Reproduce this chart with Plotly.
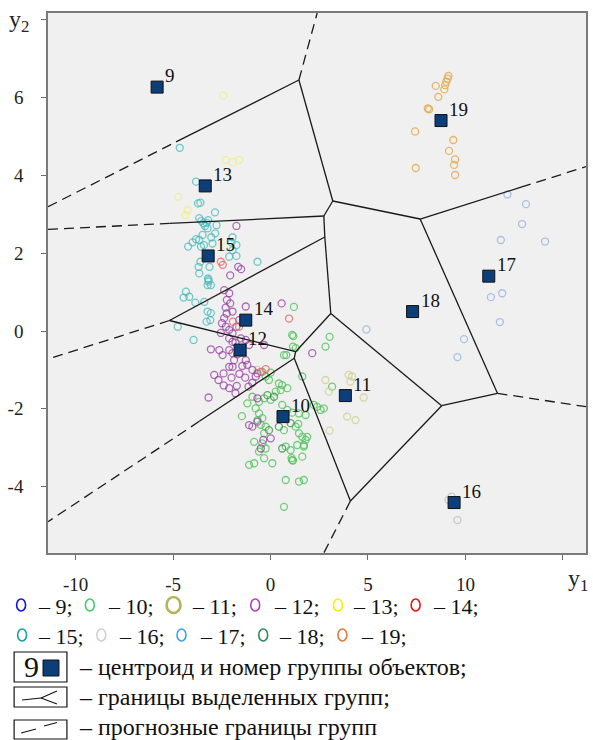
import plotly.graph_objects as go

# ---------------- data ----------------
# group centroids in (y1, y2) space
centroid_ids = [9, 10, 11, 12, 13, 14, 15, 16, 17, 18, 19]
centroid_x = [-5.82, 0.64, 3.84, -1.56, -3.35, -1.27, -3.20, 9.42, 11.20, 7.29, 8.75]
centroid_y = [6.27, -2.20, -1.66, -0.49, 3.73, 0.28, 1.93, -4.41, 1.41, 0.50, 5.41]

# objects of each group
g10_x = [1.17, 2.82, 3.03, 0.81, 1.63, 3.16, -0.42, 0.01, -0.25, -0.08, 0.43, 0.60, 0.86,
         0.52, 0.27, 0.01, -0.33, -0.59, 0.60, 0.86, 1.11, 1.46, 1.80, 2.22, 2.39, 2.57,
         2.74, -0.76, -0.59, -0.42, -0.67, -0.50, -0.25, -0.33, -1.47, 0.69, 1.29, 1.46,
         1.80, 1.88, -0.84, -0.42, -0.25, -0.59, 0.78, 1.03, 1.37, 1.71, 1.63, -1.10, -0.84,
         -0.33, 0.09, 1.08, 1.15, 0.78, 1.46, 1.71, 0.69, 1.20, 1.11, 1.15, 0.69, 1.29,
         -0.93, -1.19, 1.42, 1.63, 1.71, 1.11]
g10_y = [-0.13, -0.40, -0.15, -0.62, -1.17, -1.43, -1.05, -1.07, -1.17, -1.26, -1.35, -1.39,
         -1.47, -1.52, -1.56, -1.77, -1.73, -1.82, -1.90, -2.03, -2.10, -2.12, -2.16, -1.90,
         -1.95, -2.03, -1.99, -1.99, -2.12, -2.24, -2.29, -2.41, -2.46, -2.63, -2.19, -2.55,
         -2.46, -2.63, -2.80, -2.72, -2.85, -2.89, -3.02, -3.10, -2.97, -3.06, -2.93, -2.97,
         -3.23, -3.44, -3.40, -3.27, -3.40, -3.27, -3.33, -3.83, -3.87, -3.83, -4.52, 0.62,
         -0.10, -0.40, -0.62, -0.44, -1.69, -1.86, -2.39, -2.72, -2.93, -3.32]

g11_x = [4.01, 4.18, 4.10, 2.99, 4.78, 3.93, 4.36, 3.03, 2.82, -0.67]
g11_y = [-1.13, -1.17, -1.30, -1.56, -1.71, -2.20, -2.29, -2.56, -1.26, -1.00]

g12_x = [-2.12, -2.24, -2.07, -1.95, -2.38, -2.49, -2.29, -2.12, -1.95, -2.12, -1.95, -3.06,
         -2.63, -2.46, -2.12, -1.95, -1.87, -2.12, -1.95, -2.89, -2.67, -2.41, -2.12, -1.73,
         -3.18, -1.13, -0.93, -0.76, -1.27, -1.19, -0.93, -0.67, -0.33, -1.27, -1.10, -1.52,
         -1.75, -1.61, 0.57, -1.10, -0.93, -0.67, -0.50, -0.37, 0.01, 2.14, -0.67, -1.75,
         -1.66, -1.51, -2.07, -2.38, -1.27, -2.30, -1.80, -1.70, -1.45, -1.60, -1.30, -2.00,
         -1.80, -2.40, -2.55, -1.45, -2.25]
g12_y = [0.97, 0.80, 0.71, 0.50, 0.33, 0.20, 0.11, 0.03, -0.06, -0.19, -0.28, -0.47, -0.49,
         -0.62, -0.49, -0.57, -0.75, -0.92, -0.92, -1.13, -1.26, -1.09, -1.47, -1.41, -1.71,
         -1.43, -1.33, -1.17, -0.75, -0.87, -1.00, -1.09, -0.36, -0.23, -0.36, -0.19, 0.11,
         0.28, 0.71, -2.42, -2.46, -2.33, -3.02, -2.80, -2.76, -0.57, -1.73, 2.70, 1.65,
         1.59, 1.43, 1.05, 0.63, 0.60, -0.30, -0.60, -0.90, -1.10, -1.20, -1.20, -1.60,
         -1.40, -0.05, -0.55, 0.45]

g13_x = [-2.43, -2.29, -1.95, -1.61, -4.73, -4.25, -4.37]
g13_y = [6.05, 4.40, 4.34, 4.40, 3.45, 3.11, 2.98]

g14_x = [-2.55, -2.45, 0.95, -1.61, -1.93, -0.50, -0.25]
g14_y = [1.78, 1.70, 0.32, 0.11, 0.24, -1.05, -0.98]

g15_x = [-4.66, -3.82, -3.72, -3.60, -2.85, -3.66, -3.55, -3.45, -3.28, -3.20, -3.36, -3.23,
         -2.77, -2.84, -3.49, -3.04, -3.82, -3.66, -4.00, -4.23, -3.57, -3.42, -2.98, -1.95,
         -2.00, -1.75, -1.95, -2.12, -1.75, -3.60, -3.69, -3.13, -0.67, -3.66, -3.21, -3.18,
         -3.23, -3.06, -4.34, -4.46, -4.17, -3.86, -3.40, -3.23, -3.06, -3.28, -3.09, -4.76,
         -3.95, -3.18]
g15_y = [4.71, 3.84, 3.28, 3.30, 3.05, 2.90, 2.83, 2.77, 2.78, 2.85, 2.70, 2.64, 2.72, 2.51,
         2.47, 2.41, 2.36, 2.34, 2.28, 2.17, 2.17, 2.21, 2.25, 2.41, 2.28, 2.21, 2.08, 1.91,
         1.93, 1.78, 1.65, 1.65, 1.78, 1.48, 1.35, 1.31, 1.18, 1.18, 1.01, 0.86, 0.88, 0.73,
         0.75, 0.50, 0.46, 0.24, 0.28, 0.11, -0.23, 1.27]

g16_x = [9.29, 9.13, 9.59]
g16_y = [-4.26, -4.34, -4.86]

g17_x = [12.16, 13.11, 12.91, 11.82, 14.09, 11.89, 11.31, 11.77, 9.93, 9.59, 4.92]
g17_y = [3.51, 3.26, 2.75, 2.34, 2.30, 0.97, 0.87, 0.23, -0.21, -0.67, 0.04]

g18_x = [-0.16, 0.18, 1.03, 0.43, -0.08, 0.60]
g18_y = [-1.65, -1.69, -2.37, -2.46, -2.55, -3.02]

g19_x = [9.13, 9.09, 9.02, 8.96, 8.48, 8.92, 8.61, 8.07, 8.14, 7.42, 9.38, 9.16, 9.47, 9.42,
         7.45, 9.47]
g19_y = [6.56, 6.49, 6.41, 6.32, 6.30, 6.21, 6.02, 5.72, 5.70, 5.13, 4.91, 4.63, 4.41, 4.27,
         4.19, 4.01]

# group boundaries: segments inside the data region (solid) and extrapolated (dashed)
solid_segments = [
    ((-4.85, 4.86), (1.457, 6.452)),
    ((1.457, 6.452), (3.195, 3.342)),
    ((3.195, 3.342), (2.735, 2.956)),
    ((-5.19, 2.765), (2.735, 2.956)),
    ((2.735, 2.956), (2.786, 2.416)),
    ((2.786, 2.416), (-5.189, 0.270)),
    ((-5.189, 0.270), (1.288, -0.532)),
    ((2.786, 2.416), (3.093, 0.450)),
    ((3.093, 0.450), (1.288, -0.532)),
    ((1.288, -0.532), (1.217, -0.702)),
    ((1.217, -0.702), (-3.655, -2.322)),
    ((1.217, -0.702), (4.100, -4.370)),
    ((3.093, 0.450), (8.783, -1.920)),
    ((8.783, -1.920), (4.100, -4.370)),
    ((8.783, -1.920), (11.646, -1.602)),
    ((11.646, -1.602), (7.679, 2.879)),
    ((7.679, 2.879), (3.195, 3.342)),
    ((7.679, 2.879), (12.858, 3.697)),
]
dashed_segments = [
    ((-11.42, 3.195), (-4.85, 4.86)),
    ((1.457, 6.452), (2.393, 8.175)),
    ((-11.42, 2.614), (-5.19, 2.765)),
    ((-5.189, 0.270), (-11.42, -0.720)),
    ((-3.655, -2.322), (-11.42, -4.902)),
    ((4.100, -4.370), (2.735, -5.707)),
    ((11.646, -1.602), (16.19, -1.946)),
    ((12.858, 3.697), (16.19, 4.224)),
]

# the last tick on each axis is left for the axis name
x_ticks = [-10, -5, 0, 5, 10, 15]
x_ticktext = ["-10", "-5", "0", "5", "10", ""]
y_ticks = [-4, -2, 0, 2, 4, 6, 8]
y_ticktext = ["-4", "-2", "0", "2", "4", "6", ""]

legend_rows = [
    [(9, "– 9;"), (10, "– 10;"), (11, "– 11;"), (12, "– 12;"), (13, "– 13;"), (14, "– 14;")],
    [(15, "– 15;"), (16, "– 16;"), (17, "– 17;"), (18, "– 18;"), (19, "– 19;")],
]

# ---------------- styles ----------------
SERIF = "Liberation Serif, Times New Roman, serif"
point_colors = {
    10: "rgba(80,195,90,0.8)", 11: "rgba(205,205,140,0.75)", 12: "rgba(150,60,160,0.75)",
    13: "rgba(240,240,120,0.7)", 14: "rgba(225,95,95,0.75)", 15: "rgba(70,185,185,0.75)",
    16: "rgba(190,190,190,0.8)", 17: "rgba(150,180,225,0.8)", 18: "rgba(55,150,70,0.8)",
    19: "rgba(230,165,70,0.8)",
}
legend_colors = {
    9: "#1010ee", 10: "#3ccf6a", 11: "#b5b45c", 12: "#b040bf", 13: "#f5f000", 14: "#ee1010",
    15: "#1aa0a0", 16: "#d0d0d0", 17: "#3fa0f0", 18: "#2e8b57", 19: "#e07a3a",
}
groups = {
    10: (g10_x, g10_y), 11: (g11_x, g11_y), 12: (g12_x, g12_y), 13: (g13_x, g13_y),
    14: (g14_x, g14_y), 15: (g15_x, g15_y), 16: (g16_x, g16_y), 17: (g17_x, g17_y),
    18: (g18_x, g18_y), 19: (g19_x, g19_y),
}

fig = go.Figure()


def seg_xy(segments):
    xs, ys = [], []
    for (x0, y0), (x1, y1) in segments:
        xs += [x0, x1, None]
        ys += [y0, y1, None]
    return xs, ys


# object markers
for gid, (gx, gy) in groups.items():
    fig.add_trace(go.Scatter(
        x=gx, y=gy, mode="markers", hoverinfo="skip",
        marker=dict(symbol="circle-open", size=7, color=point_colors[gid],
                    line=dict(width=1.3, color=point_colors[gid])),
    ))

# boundaries
sx, sy = seg_xy(solid_segments)
fig.add_trace(go.Scatter(x=sx, y=sy, mode="lines", hoverinfo="skip",
                         line=dict(color="#1a1a1a", width=1.3)))
dx, dy = seg_xy(dashed_segments)
fig.add_trace(go.Scatter(x=dx, y=dy, mode="lines", hoverinfo="skip",
                         line=dict(color="#1a1a1a", width=1.3, dash="10px,6px")))

# centroids
fig.add_trace(go.Scatter(
    x=centroid_x, y=centroid_y, mode="markers", hoverinfo="skip",
    marker=dict(symbol="square", size=12, color="#0c3e79",
                line=dict(width=1, color="#111111")),
))

annotations = []
for cid, cx, cy in zip(centroid_ids, centroid_x, centroid_y):
    annotations.append(dict(
        x=cx, y=cy, xref="x", yref="y", text=str(cid), showarrow=False,
        xanchor="left", yanchor="bottom", xshift=6, yshift=-1,
        font=dict(family=SERIF, size=19, color="#111"),
    ))


def px_x(px):
    return (px - 48) / 540


def px_y(py):
    return (553 - py) / 540


# axis names
annotations.append(dict(xref="paper", yref="paper", x=px_x(19), y=px_y(21),
                        text="y<sub>2</sub>", showarrow=False, xanchor="center",
                        yanchor="middle", font=dict(family=SERIF, size=24, color="#222")))
annotations.append(dict(xref="paper", yref="paper", x=px_x(580), y=px_y(580),
                        text="y<sub>1</sub>", showarrow=False, xanchor="center",
                        yanchor="middle", font=dict(family=SERIF, size=24, color="#222")))

shapes = []
# legend: marker colours of the groups
row_pos = [
    (605, [21, 90, 174, 256, 339, 417], [36, 106, 191, 273, 352, 432]),
    (635, [22, 101.5, 182, 264, 343.5], [36, 117, 199, 278, 360]),
]
for (ry, cxs, txs), row in zip(row_pos, legend_rows):
    for (gid, label), cxp, txp in zip(row, cxs, txs):
        if gid == 11:
            w, h, lw = 7, 8, 2.6
        else:
            w, h, lw = 4.5, 6, 1.6
        shapes.append(dict(type="circle", xref="paper", yref="paper",
                           x0=px_x(cxp - w), x1=px_x(cxp + w),
                           y0=px_y(ry + h), y1=px_y(ry - h),
                           line=dict(color=legend_colors[gid], width=lw)))
        annotations.append(dict(xref="paper", yref="paper", x=px_x(txp), y=px_y(ry + 1),
                                text=label, showarrow=False, xanchor="left", yanchor="middle",
                                font=dict(family=SERIF, size=22, color="#111")))

# legend: centroid box
shapes.append(dict(type="rect", xref="paper", yref="paper", x0=px_x(14), x1=px_x(67),
                   y0=px_y(682), y1=px_y(652), line=dict(color="#111", width=1.2)))
annotations.append(dict(xref="paper", yref="paper", x=px_x(31), y=px_y(666), text="9",
                        showarrow=False, xanchor="center", yanchor="middle",
                        font=dict(family=SERIF, size=30, color="#111")))
shapes.append(dict(type="rect", xref="paper", yref="paper", x0=px_x(43), x1=px_x(59),
                   y0=px_y(676), y1=px_y(660), fillcolor="#0c3e79",
                   line=dict(color="#111", width=1)))
annotations.append(dict(xref="paper", yref="paper", x=px_x(77), y=px_y(667),
                        text="– центроид и номер группы объектов;", showarrow=False,
                        xanchor="left", yanchor="middle",
                        font=dict(family=SERIF, size=24, color="#111")))

# legend: boundary box
shapes.append(dict(type="rect", xref="paper", yref="paper", x0=px_x(14), x1=px_x(67),
                   y0=px_y(707), y1=px_y(687), line=dict(color="#111", width=1.2)))
for (a, b) in [((22, 700), (41, 698)), ((41, 698), (57, 691)), ((41, 698), (57, 704))]:
    shapes.append(dict(type="line", xref="paper", yref="paper",
                       x0=px_x(a[0]), y0=px_y(a[1]), x1=px_x(b[0]), y1=px_y(b[1]),
                       line=dict(color="#111", width=1.1)))
annotations.append(dict(xref="paper", yref="paper", x=px_x(77), y=px_y(697),
                        text="– границы выделенных групп;", showarrow=False,
                        xanchor="left", yanchor="middle",
                        font=dict(family=SERIF, size=24, color="#111")))

# legend: extrapolated boundary box
shapes.append(dict(type="rect", xref="paper", yref="paper", x0=px_x(14), x1=px_x(67),
                   y0=px_y(739), y1=px_y(720), line=dict(color="#111", width=1.2)))
for (a, b) in [((21, 733), (36, 729)), ((44, 726), (57, 722.5))]:
    shapes.append(dict(type="line", xref="paper", yref="paper",
                       x0=px_x(a[0]), y0=px_y(a[1]), x1=px_x(b[0]), y1=px_y(b[1]),
                       line=dict(color="#111", width=1.1)))
annotations.append(dict(xref="paper", yref="paper", x=px_x(77), y=px_y(727),
                        text="– прогнозные границы групп", showarrow=False,
                        xanchor="left", yanchor="middle",
                        font=dict(family=SERIF, size=24, color="#111")))

axis_common = dict(
    showgrid=False, zeroline=False, showline=True, linecolor="#7a7a7a", linewidth=1.5,
    mirror=True, ticks="outside", ticklen=5, tickwidth=1.3, tickcolor="#6a6a6a",
    tickfont=dict(family=SERIF, size=19, color="#222"),
)

fig.update_layout(
    width=593, height=740, autosize=False,
    margin=dict(l=48, r=5, t=13, b=187, pad=0),
    paper_bgcolor="white", plot_bgcolor="#f0f0f0",
    showlegend=False,
    xaxis=dict(range=[-11.42, 16.19], tickvals=x_ticks, ticktext=x_ticktext,
               ticklabelstandoff=8, **axis_common),
    yaxis=dict(range=[-5.707, 8.175], tickvals=y_ticks, ticktext=y_ticktext,
               ticklabelstandoff=14, **axis_common),
    annotations=annotations,
    shapes=shapes,
)

fig.write_html("out.html")
